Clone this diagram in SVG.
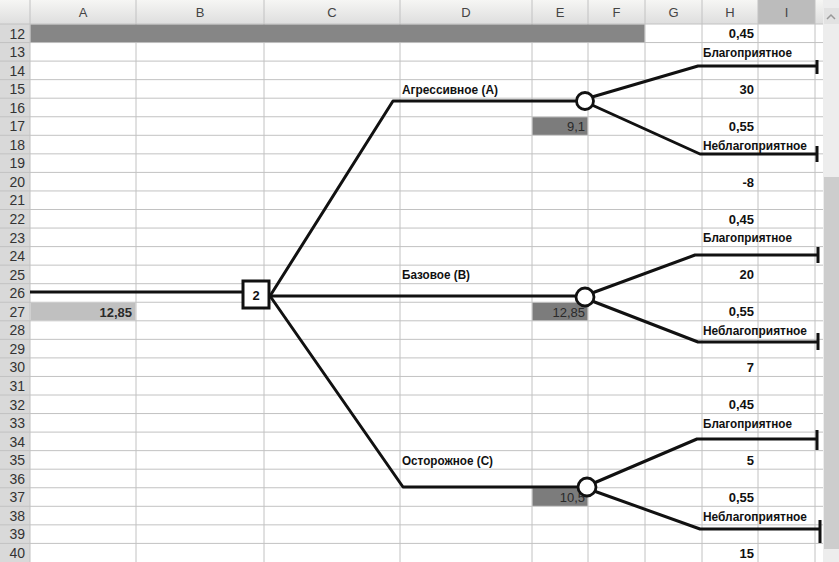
<svg xmlns="http://www.w3.org/2000/svg" width="839" height="562" viewBox="0 0 839 562">
<defs>
<linearGradient id="hdr" x1="0" y1="0" x2="0" y2="1">
<stop offset="0" stop-color="#f6f6f4"/>
<stop offset="1" stop-color="#dedede"/>
</linearGradient>
</defs>
<style>
.grid{stroke:#c2c2c2;stroke-width:1;fill:none}
.rh{font-family:"Liberation Sans",Arial,sans-serif;font-size:14px;fill:#333;text-anchor:end}
.ch{font-family:"Liberation Sans",Arial,sans-serif;font-size:13px;fill:#444;text-anchor:middle}
.lbl{font-family:"Liberation Sans Narrow","Liberation Sans",Arial,sans-serif;font-size:13px;font-weight:bold;fill:#111}
.num{font-family:"Liberation Sans",Arial,sans-serif;font-size:13px;font-weight:bold;fill:#111;text-anchor:end}
.cell{font-family:"Liberation Sans",Arial,sans-serif;font-size:13px;fill:#2a2a2a;text-anchor:end}
.edge{stroke:#111;stroke-width:3;fill:none;stroke-linejoin:round}
.chance{fill:#fff;stroke:#111;stroke-width:2.8}
</style>
<rect x="0" y="0" width="839" height="562" fill="#fff"/>
<!-- header row -->
<rect x="0" y="0" width="823" height="24" fill="url(#hdr)"/>
<rect x="758" y="0" width="57" height="24" fill="#bcbcbc"/>
<rect x="0" y="24" width="30" height="538" fill="#d9d9d9"/>
<!-- grid -->
<g id="grid" class="grid">
<path d="M0,24H823M0,42.55H823M0,61.1H823M0,79.65H823M0,98.2H823M0,116.75H823M0,135.3H823M0,153.85H823M0,172.4H823M0,190.95H823M0,209.5H823M0,228.05H823M0,246.6H823M0,265.15H823M0,283.7H823M0,302.25H823M0,320.8H823M0,339.35H823M0,357.9H823M0,376.45H823M0,395H823M0,413.55H823M0,432.1H823M0,450.65H823M0,469.2H823M0,487.75H823M0,506.3H823M0,524.85H823M0,543.4H823"/>
<path d="M30,0V562M136,0V562M264,0V562M400,0V562M532,0V562M588,0V562M645,0V562M702,0V562M758,0V562M815,0V562"/>
</g>
<!-- row 12 gray bar -->
<rect x="30.5" y="24.5" width="614" height="17.6" fill="#868686"/>
<!-- shaded cells -->
<rect x="30.5" y="302.75" width="105" height="17.6" fill="#c0c0c0"/>
<rect x="532.5" y="117.25" width="55" height="17.6" fill="#7c7c7c"/>
<rect x="532.5" y="302.75" width="55" height="17.6" fill="#7c7c7c"/>
<rect x="532.5" y="488.25" width="55" height="17.6" fill="#7c7c7c"/>
<!-- column headers -->
<g id="colheaders">
<text class="ch" x="83" y="17">A</text>
<text class="ch" x="200" y="17">B</text>
<text class="ch" x="332" y="17">C</text>
<text class="ch" x="466" y="17">D</text>
<text class="ch" x="560" y="17">E</text>
<text class="ch" x="616.5" y="17">F</text>
<text class="ch" x="673.5" y="17">G</text>
<text class="ch" x="730" y="17">H</text>
<text class="ch" x="786.5" y="17">I</text>
</g>
<!-- row headers -->
<g id="rowheaders">
<text class="rh" x="25" y="38.5">12</text>
<text class="rh" x="25" y="57">13</text>
<text class="rh" x="25" y="75.5">14</text>
<text class="rh" x="25" y="94.1">15</text>
<text class="rh" x="25" y="112.7">16</text>
<text class="rh" x="25" y="131.2">17</text>
<text class="rh" x="25" y="149.8">18</text>
<text class="rh" x="25" y="168.3">19</text>
<text class="rh" x="25" y="186.9">20</text>
<text class="rh" x="25" y="205.4">21</text>
<text class="rh" x="25" y="224">22</text>
<text class="rh" x="25" y="242.5">23</text>
<text class="rh" x="25" y="261.1">24</text>
<text class="rh" x="25" y="279.6">25</text>
<text class="rh" x="25" y="298.2">26</text>
<text class="rh" x="25" y="316.7">27</text>
<text class="rh" x="25" y="335.3">28</text>
<text class="rh" x="25" y="353.8">29</text>
<text class="rh" x="25" y="372.4">30</text>
<text class="rh" x="25" y="390.9">31</text>
<text class="rh" x="25" y="409.5">32</text>
<text class="rh" x="25" y="428">33</text>
<text class="rh" x="25" y="446.6">34</text>
<text class="rh" x="25" y="465.1">35</text>
<text class="rh" x="25" y="483.7">36</text>
<text class="rh" x="25" y="502.2">37</text>
<text class="rh" x="25" y="520.8">38</text>
<text class="rh" x="25" y="539.3">39</text>
<text class="rh" x="25" y="557.9">40</text>
</g>
<!-- scrollbar -->
<rect x="823" y="0" width="16" height="562" fill="#ededed"/>
<rect x="824" y="8" width="15" height="16" fill="#e2e2e2"/>
<path d="M827,19 L831,15 L835,19" stroke="#999" stroke-width="1.5" fill="none"/>
<rect x="824" y="177" width="15" height="372" fill="#cdcdcd"/>
<!-- connectors -->
<g id="connectors" class="edge">
<path d="M30,292H243"/>
<path d="M270,296L393,101H578"/>
<path d="M270,296H577"/>
<path d="M270,296L403,487H579"/>
<path d="M592,97L698,66H817M817,60V74"/>
<path d="M592,105L700,154H817M817,146V162"/>
<path d="M592,293L695,255H818M818,247V263"/>
<path d="M592,301L698,342H818M818,333V350"/>
<path d="M594,483L697,439H817M817,430V450"/>
<path d="M594,491L700,529H820M820,520V543"/>
</g>
<!-- cell values -->
<g id="values">
<text class="cell" x="132" y="316.5" font-weight="bold">12,85</text>
<text class="cell" x="585" y="131">9,1</text>
<text class="cell" x="585" y="316.5">12,85</text>
<text class="cell" x="585" y="502">10,5</text>
</g>
<!-- decision node -->
<g id="node-2">
<rect x="243" y="281" width="26" height="27" fill="#fff" stroke="#111" stroke-width="3"/>
<text class="lbl" x="256" y="300" text-anchor="middle" font-size="13.5">2</text>
</g>
<!-- chance nodes -->
<g id="node-A">
<circle class="chance" cx="585" cy="101" r="8.5"/>
<text class="lbl" x="402" y="93.8" textLength="96" lengthAdjust="spacingAndGlyphs">Агрессивное (А)</text>
</g>
<g id="node-B">
<circle class="chance" cx="585" cy="297" r="9"/>
<text class="lbl" x="402" y="279.3" textLength="68" lengthAdjust="spacingAndGlyphs">Базовое (В)</text>
</g>
<g id="node-C">
<circle class="chance" cx="587" cy="487" r="9"/>
<text class="lbl" x="402" y="464.8" textLength="91" lengthAdjust="spacingAndGlyphs">Осторожное (С)</text>
</g>
<!-- outcome labels -->
<g id="outcomes-A">
<text class="num" x="754" y="38.2">0,45</text>
<text class="lbl" x="703" y="56.7" textLength="89" lengthAdjust="spacingAndGlyphs">Благоприятное</text>
<text class="num" x="754" y="93.8">30</text>
<text class="num" x="754" y="130.9">0,55</text>
<text class="lbl" x="703" y="149.5" textLength="104" lengthAdjust="spacingAndGlyphs">Неблагоприятное</text>
<text class="num" x="754" y="186.6">-8</text>
</g>
<g id="outcomes-B">
<text class="num" x="754" y="223.7">0,45</text>
<text class="lbl" x="703" y="242.2" textLength="89" lengthAdjust="spacingAndGlyphs">Благоприятное</text>
<text class="num" x="754" y="279.3">20</text>
<text class="num" x="754" y="316.4">0,55</text>
<text class="lbl" x="703" y="335" textLength="104" lengthAdjust="spacingAndGlyphs">Неблагоприятное</text>
<text class="num" x="754" y="372.1">7</text>
</g>
<g id="outcomes-C">
<text class="num" x="754" y="409.2">0,45</text>
<text class="lbl" x="703" y="427.7" textLength="89" lengthAdjust="spacingAndGlyphs">Благоприятное</text>
<text class="num" x="754" y="464.8">5</text>
<text class="num" x="754" y="501.9">0,55</text>
<text class="lbl" x="703" y="520.5" textLength="104" lengthAdjust="spacingAndGlyphs">Неблагоприятное</text>
<text class="num" x="754" y="557.6">15</text>
</g>
</svg>
